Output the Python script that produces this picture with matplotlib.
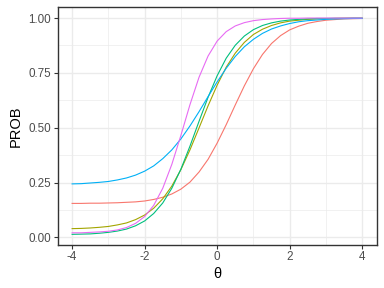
import matplotlib
matplotlib.use("Agg")
import matplotlib.pyplot as plt
from matplotlib.ticker import FixedLocator

theta = [-4.0, -3.75, -3.5, -3.25, -3.0, -2.75, -2.5, -2.25, -2.0, -1.75, -1.5, -1.25,
         -1.0, -0.75, -0.5, -0.25, 0.0, 0.25, 0.5, 0.75, 1.0, 1.25, 1.5, 1.75,
         2.0, 2.25, 2.5, 2.75, 3.0, 3.25, 3.5, 3.75, 4.0]

item1 = [0.155, 0.155, 0.156, 0.156, 0.157, 0.158, 0.160, 0.162, 0.166, 0.173, 0.183, 0.198,
         0.220, 0.252, 0.298, 0.356, 0.430, 0.514, 0.604, 0.691, 0.769, 0.834, 0.884, 0.920,
         0.946, 0.963, 0.976, 0.984, 0.990, 0.993, 0.996, 0.997, 0.998]
item2 = [0.040, 0.041, 0.043, 0.046, 0.050, 0.057, 0.066, 0.081, 0.102, 0.133, 0.176, 0.234,
         0.309, 0.399, 0.499, 0.600, 0.694, 0.776, 0.840, 0.889, 0.925, 0.949, 0.966, 0.978,
         0.986, 0.990, 0.994, 0.996, 0.997, 0.998, 0.999, 0.999, 0.999]
item3 = [0.014, 0.015, 0.016, 0.019, 0.023, 0.029, 0.038, 0.053, 0.075, 0.109, 0.157, 0.224,
         0.311, 0.416, 0.529, 0.639, 0.737, 0.817, 0.876, 0.918, 0.947, 0.966, 0.978, 0.986,
         0.991, 0.994, 0.996, 0.998, 0.998, 0.999, 0.999, 1.000, 1.000]
item4 = [0.244, 0.245, 0.248, 0.251, 0.255, 0.262, 0.271, 0.284, 0.302, 0.326, 0.359, 0.399,
         0.449, 0.508, 0.573, 0.642, 0.709, 0.771, 0.825, 0.869, 0.903, 0.930, 0.950, 0.964,
         0.975, 0.983, 0.988, 0.991, 0.994, 0.996, 0.997, 0.998, 0.998]
item5 = [0.021, 0.021, 0.023, 0.025, 0.028, 0.034, 0.045, 0.064, 0.095, 0.146, 0.224, 0.333,
         0.465, 0.605, 0.730, 0.827, 0.895, 0.938, 0.964, 0.979, 0.988, 0.993, 0.996, 0.998,
         0.999, 0.999, 1.000, 1.000, 1.000, 1.000, 1.000, 1.000, 1.000]

series = [item1, item2, item3, item4, item5]
colors = ["#F8766D", "#A3A500", "#00BF7D", "#00B0F6", "#E76BF3"]

x_ticks = [-4, -2, 0, 2, 4]
x_labels = ["-4", "-2", "0", "2", "4"]
y_ticks = [0.0, 0.25, 0.5, 0.75, 1.0]
y_labels = ["0.00", "0.25", "0.50", "0.75", "1.00"]

plt.rcParams['font.family'] = ['Liberation Sans', 'DejaVu Sans']
plt.rcParams['axes.unicode_minus'] = False

fig = plt.figure(figsize=(3.84, 2.88), dpi=100)
ax = fig.add_axes([0.150, 0.149, 0.831, 0.828])

for ys, c in zip(series, colors):
    ax.plot(theta, ys, color=c, linewidth=0.8, zorder=3)

ax.set_xlim(-4.4, 4.4)
ax.set_ylim(-0.035, 1.052)
ax.set_xticks(x_ticks)
ax.set_xticklabels(x_labels)
ax.set_yticks(y_ticks)
ax.set_yticklabels(y_labels)
ax.xaxis.set_minor_locator(FixedLocator([-3, -1, 1, 3]))
ax.yaxis.set_minor_locator(FixedLocator([0.125, 0.375, 0.625, 0.875]))

ax.grid(True, which='major', color='#EBEBEB', linewidth=1.0, zorder=0)
ax.grid(True, which='minor', color='#EBEBEB', linewidth=0.5, zorder=0)
ax.set_axisbelow(True)

for s in ax.spines.values():
    s.set_color('#333333')
    s.set_linewidth(1.0)

ax.tick_params(which='major', length=2.6, width=0.8, color='#333333',
               labelcolor='#4D4D4D', labelsize=8.4, pad=2.0)
ax.tick_params(which='minor', length=0)

ax.set_xlabel('θ', fontsize=10.5, color='black', labelpad=2.5)
ax.set_ylabel('PROB', fontsize=10.5, color='black', labelpad=4)

fig.savefig('out.png', dpi=100)
